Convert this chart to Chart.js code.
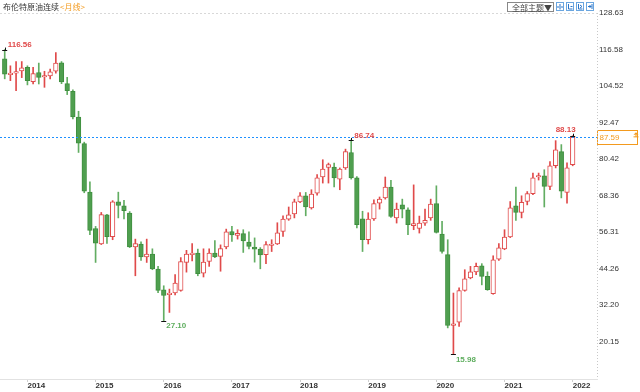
<!DOCTYPE html>
<html><head><meta charset="utf-8">
<script src="https://cdn.jsdelivr.net/npm/chart.js@4.4.1/dist/chart.umd.min.js"></script>
<style>html,body{margin:0;padding:0;background:#fff;}#wrap{width:640px;height:392px;position:relative;}</style>
</head><body><div id="wrap"><canvas id="c" width="640" height="392"></canvas></div>
<script>
const months = [
'2013-09','2013-10','2013-11','2013-12',
'2014-01','2014-02','2014-03','2014-04','2014-05','2014-06','2014-07','2014-08','2014-09','2014-10','2014-11','2014-12',
'2015-01','2015-02','2015-03','2015-04','2015-05','2015-06','2015-07','2015-08','2015-09','2015-10','2015-11','2015-12',
'2016-01','2016-02','2016-03','2016-04','2016-05','2016-06','2016-07','2016-08','2016-09','2016-10','2016-11','2016-12',
'2017-01','2017-02','2017-03','2017-04','2017-05','2017-06','2017-07','2017-08','2017-09','2017-10','2017-11','2017-12',
'2018-01','2018-02','2018-03','2018-04','2018-05','2018-06','2018-07','2018-08','2018-09','2018-10','2018-11','2018-12',
'2019-01','2019-02','2019-03','2019-04','2019-05','2019-06','2019-07','2019-08','2019-09','2019-10','2019-11','2019-12',
'2020-01','2020-02','2020-03','2020-04','2020-05','2020-06','2020-07','2020-08','2020-09','2020-10','2020-11','2020-12',
'2021-01','2021-02','2021-03','2021-04','2021-05','2021-06','2021-07','2021-08','2021-09','2021-10','2021-11','2021-12',
'2022-01'];
const open = [
113.5,108.3,108.8,109.5,
110.7,106.0,109.0,107.5,107.9,109.4,112.2,105.3,102.8,94.3,85.5,69.5,
57.5,52.4,62.0,54.8,66.3,65.0,62.6,51.4,52.4,48.1,49.1,44.1,
37.3,35.7,36.2,37.1,46.3,48.9,49.4,42.8,46.6,49.4,48.3,51.4,
56.5,55.2,55.8,53.0,51.4,50.7,48.9,51.9,52.4,56.5,60.6,62.3,
66.3,68.3,64.3,69.2,74.5,77.7,77.8,73.8,77.5,82.6,74.2,60.7,
53.8,60.7,65.9,67.6,71.2,61.0,65.3,63.7,58.4,57.5,59.3,61.0,
65.7,55.7,48.9,25.5,26.6,37.1,41.2,43.2,45.2,41.7,36.0,47.4,
50.8,54.7,65.0,62.8,66.4,69.0,74.5,74.9,71.4,78.2,82.9,69.4,
78.6];
const high = [
116.56,111.2,112.6,112.6,
111.2,110.7,112.1,109.4,110.1,115.6,112.6,107.4,103.3,96.2,86.0,72.9,
58.2,62.8,62.2,66.7,69.5,66.8,63.1,54.0,53.1,54.0,50.8,45.0,
38.6,37.5,42.3,47.9,50.3,52.5,50.7,50.8,50.8,53.5,52.1,57.3,
58.2,57.1,57.1,56.4,54.4,51.2,53.2,53.8,59.4,61.7,64.6,67.2,
69.4,69.4,70.3,75.3,80.2,79.1,79.1,77.5,83.7,86.74,74.6,63.2,
62.7,67.0,67.9,74.5,73.4,65.9,67.2,64.3,71.9,61.6,63.9,67.2,
71.6,59.9,53.8,36.2,37.9,43.9,45.0,46.1,45.9,43.2,48.5,52.5,
57.1,66.4,71.2,68.3,69.7,75.8,75.8,76.9,79.6,86.5,85.2,79.2,
88.13];
const low = [
106.9,106.3,103.0,107.3,
104.9,105.2,105.2,104.1,106.9,108.8,105.3,101.7,93.7,82.6,69.3,55.5,
46.3,52.2,52.6,53.8,61.0,60.7,51.2,41.9,47.0,46.3,43.9,36.3,
27.10,29.8,35.6,36.8,43.1,46.8,41.9,41.5,45.0,47.9,43.4,50.8,
53.2,54.0,49.6,50.8,46.4,44.2,45.9,49.9,52.2,54.9,60.2,61.0,
66.0,61.7,63.9,68.5,72.5,72.5,71.2,70.3,77.0,73.8,57.7,49.9,
52.4,60.2,63.9,67.2,61.2,59.3,61.0,55.5,57.1,56.0,58.5,60.2,
56.0,49.4,24.7,15.98,25.2,36.8,40.9,42.3,38.9,37.1,35.8,47.0,
50.5,54.5,60.2,61.0,65.3,68.7,73.5,64.6,70.3,77.5,67.6,65.9,
78.2];
const close = [
108.4,108.8,109.3,110.5,
106.3,108.6,107.4,107.9,109.2,112.1,105.9,103.0,94.3,85.7,69.8,56.9,
52.7,62.1,54.8,66.3,65.1,63.4,51.4,52.5,48.1,49.1,44.2,37.1,
35.4,36.2,39.5,46.6,49.1,49.2,42.6,46.4,49.4,48.1,50.9,56.4,
55.4,55.9,53.4,51.6,50.7,48.8,52.2,52.4,56.1,60.6,62.0,66.3,
68.3,64.6,68.9,74.2,77.1,78.6,74.2,77.1,82.9,74.2,58.8,53.8,
60.6,65.7,67.2,71.2,61.5,63.9,63.9,58.8,59.1,59.3,60.2,65.6,
56.2,49.9,25.5,26.0,37.0,40.9,43.2,45.0,41.7,37.3,47.2,51.1,
54.7,64.3,62.8,66.1,69.0,74.2,74.7,71.4,78.2,83.5,69.8,77.5,
87.59];
const yTicks = [20.15, 32.20, 44.26, 56.31, 68.36, 80.42, 92.47, 104.52, 116.58, 128.63];
const yearLabels = ['2014','2015','2016','2017','2018','2019','2020','2021','2022'];
const lastPrice = 87.59;
const extremes = [
  {month:'2013-09', value:116.56, kind:'high'},
  {month:'2016-01', value:27.10, kind:'low'},
  {month:'2018-10', value:86.74, kind:'high'},
  {month:'2020-04', value:15.98, kind:'low'},
  {month:'2022-01', value:88.13, kind:'high', side:'left'}
];
const titleMain = '布伦特原油连续';
const titleSub = '<月线>';

const RED = '#e04a4a', GREEN = '#4f9f4f', GREEN_EDGE = '#3f8f3f', GREEN_WICK = '#62ad62';
const FONT = '"Liberation Sans", Arial, sans-serif';
const idx = months.map((m, i) => i);
const up = idx.map(i => close[i] >= open[i]);
const yearIdx = yearLabels.map(y => months.indexOf(y + '-01'));

const overlay = {
  id: 'overlay',
  beforeDatasetsDraw(chart) {
    const {ctx, chartArea: a} = chart;
    ctx.save();
    ctx.strokeStyle = '#d8d8d8'; ctx.lineWidth = 1; ctx.setLineDash([2, 2]);
    ctx.beginPath(); ctx.moveTo(a.left, Math.round(a.top) + 0.5); ctx.lineTo(a.right, Math.round(a.top) + 0.5); ctx.stroke();
    ctx.restore();
  },
  afterDatasetsDraw(chart) {
    const {ctx, chartArea: a, scales: {y}} = chart;
    const py = Math.round(y.getPixelForValue(lastPrice)) + 0.5;
    ctx.save();
    ctx.lineWidth = 1;
    ctx.strokeStyle = 'rgb(30,144,255)';
    ctx.setLineDash([2, 2]);
    ctx.beginPath(); ctx.moveTo(a.left, py); ctx.lineTo(a.right, py); ctx.stroke();
    ctx.restore();
  },
  afterDraw(chart) {
    const {ctx, chartArea: a, scales: {x, y}} = chart;
    ctx.save();
    ctx.textBaseline = 'middle';
    ctx.font = '8px "Noto Sans CJK SC", sans-serif';
    ctx.fillStyle = '#333';
    ctx.fillText(titleMain, 3, 7);
    const w = ctx.measureText(titleMain).width;
    ctx.fillStyle = '#f39a1e';
    ctx.fillText(titleSub, 3 + w + 1, 7);
    ctx.fillStyle = '#fff'; ctx.strokeStyle = '#888'; ctx.lineWidth = 1;
    ctx.fillRect(507.5, 2.5, 46, 9); ctx.strokeRect(507.5, 2.5, 46, 9);
    ctx.fillStyle = '#444'; ctx.font = '8px "Noto Sans CJK SC", sans-serif';
    ctx.fillText('全部主题▼', 512, 7.5);
    const icons = [556.5, 566.5, 576.5, 586.5];
    icons.forEach((ix, k) => {
      ctx.strokeStyle = '#6aa6e0'; ctx.strokeRect(ix, 2.5, 7, 8);
      ctx.strokeStyle = '#2a74c8';
      ctx.beginPath();
      if (k === 0) { ctx.moveTo(ix + 3.5, 4); ctx.lineTo(ix + 3.5, 9.5); ctx.moveTo(ix + 1.5, 6); ctx.lineTo(ix + 1.5, 8); ctx.moveTo(ix + 5.5, 6); ctx.lineTo(ix + 5.5, 8); }
      else if (k === 1) { ctx.moveTo(ix + 2, 4); ctx.lineTo(ix + 2, 9); ctx.lineTo(ix + 6, 9); ctx.moveTo(ix + 4, 6.5); ctx.lineTo(ix + 6, 6.5); }
      else if (k === 2) { ctx.moveTo(ix + 2, 4); ctx.lineTo(ix + 2, 9); ctx.lineTo(ix + 6, 9); ctx.moveTo(ix + 3.5, 5); ctx.lineTo(ix + 5.5, 6.5); ctx.lineTo(ix + 3.5, 8); }
      else { ctx.moveTo(ix + 5.5, 4); ctx.lineTo(ix + 5.5, 9); ctx.moveTo(ix + 1.5, 6.5); ctx.lineTo(ix + 4.5, 6.5); ctx.moveTo(ix + 3, 5); ctx.lineTo(ix + 4.5, 6.5); ctx.lineTo(ix + 3, 8); }
      ctx.stroke();
    });
    ctx.font = 'bold 8px ' + FONT;
    extremes.forEach(e => {
      const i = months.indexOf(e.month);
      const px = x.getPixelForValue(i), pyv = y.getPixelForValue(e.value);
      ctx.strokeStyle = '#111'; ctx.lineWidth = 1;
      ctx.beginPath();
      ctx.moveTo(px - 2.5, Math.round(pyv) + 0.5); ctx.lineTo(px + 2.5, Math.round(pyv) + 0.5);
      if (e.kind === 'high') { ctx.moveTo(Math.round(px) + 0.5, pyv - 2); ctx.lineTo(Math.round(px) + 0.5, pyv + 1); }
      ctx.stroke();
      const txt = e.value.toFixed(2);
      ctx.textBaseline = 'middle';
      if (e.kind === 'high') {
        ctx.fillStyle = RED;
        if (e.side === 'left') { ctx.textAlign = 'right'; ctx.fillText(txt, px + 3, pyv - 6); }
        else { ctx.textAlign = 'left'; ctx.fillText(txt, px + 3, pyv - 4.5); }
      } else {
        ctx.fillStyle = '#5fae5f'; ctx.textAlign = 'left';
        ctx.fillText(txt, px + 2.5, pyv + 5);
      }
    });
    const py = y.getPixelForValue(lastPrice);
    ctx.textAlign = 'left';
    ctx.fillStyle = '#fff'; ctx.fillRect(a.right + 0.5, Math.round(py) - 6.5, 40, 14);
    ctx.strokeStyle = '#f39a1e'; ctx.lineWidth = 1; ctx.setLineDash([]);
    ctx.strokeRect(a.right + 0.5, Math.round(py) - 6.5, 40, 14);
    ctx.fillStyle = '#f39a1e'; ctx.font = '8px ' + FONT; ctx.textBaseline = 'middle';
    ctx.fillText(lastPrice.toFixed(2), a.right + 2.5, Math.round(py) + 0.5);
    ctx.fillStyle = '#f39a1e';
    ctx.beginPath(); ctx.moveTo(636, py - 5); ctx.lineTo(638.5, py - 2.5); ctx.lineTo(633.5, py - 2.5); ctx.closePath(); ctx.fill();
    ctx.fillRect(635.5, py - 2.5, 1, 2); ctx.fillRect(633.5, py - 1, 5, 1);
    ctx.strokeStyle = '#c8c8c8'; ctx.setLineDash([1, 2]);
    ctx.beginPath(); ctx.moveTo(Math.round(a.right) + 0.5, a.top); ctx.lineTo(Math.round(a.right) + 0.5, a.bottom); ctx.stroke();
    ctx.restore();
  }
};

new Chart(document.getElementById('c'), {
  type: 'bar',
  data: {
    datasets: [
      {
        label: 'wick',
        data: idx.map(i => ({x: i, y: [low[i], high[i]]})),
        backgroundColor: idx.map(i => up[i] ? RED : GREEN_WICK),
        borderWidth: 0,
        barThickness: 1,
        grouped: false,
        order: 2
      },
      {
        label: 'body',
        data: idx.map(i => ({x: i, y: [open[i], close[i]]})),
        backgroundColor: idx.map(i => up[i] ? '#ffffff' : GREEN),
        borderColor: idx.map(i => up[i] ? RED : GREEN_EDGE),
        borderWidth: 1,
        borderSkipped: false,
        barThickness: 4.6,
        minBarLength: 1.5,
        grouped: false,
        order: 1
      }
    ]
  },
  options: {
    responsive: false,
    animation: false,
    events: [],
    layout: {padding: {top: 13, left: 0, right: 0, bottom: 0}},
    plugins: {legend: {display: false}, tooltip: {enabled: false}},
    scales: {
      x: {
        type: 'linear', position: 'bottom', min: -0.83, max: 104.28, offset: false,
        afterBuildTicks: s => { s.ticks = yearIdx.map(v => ({value: v})); },
        afterFit: s => { s.height = 13; },
        ticks: {
          align: 'start', padding: -1, autoSkip: false, maxRotation: 0,
          color: '#333', font: {size: 8, weight: 'bold', family: FONT},
          callback: v => yearLabels[yearIdx.indexOf(v)]
        },
        grid: {offset: false, drawOnChartArea: false, drawTicks: true, tickLength: 3, color: '#cfcfcf'},
        border: {display: true, color: '#e2e2e2'}
      },
      y: {
        position: 'right', min: 7.83, max: 128.63,
        afterBuildTicks: s => { s.ticks = yTicks.map(v => ({value: v})); },
        afterFit: s => { s.width = 43; },
        ticks: {padding: 2, color: '#333', font: {size: 8, family: FONT}, callback: v => v.toFixed(2)},
        grid: {display: false, drawTicks: false},
        border: {display: false}
      }
    }
  },
  plugins: [overlay]
});
</script>
</body></html>
